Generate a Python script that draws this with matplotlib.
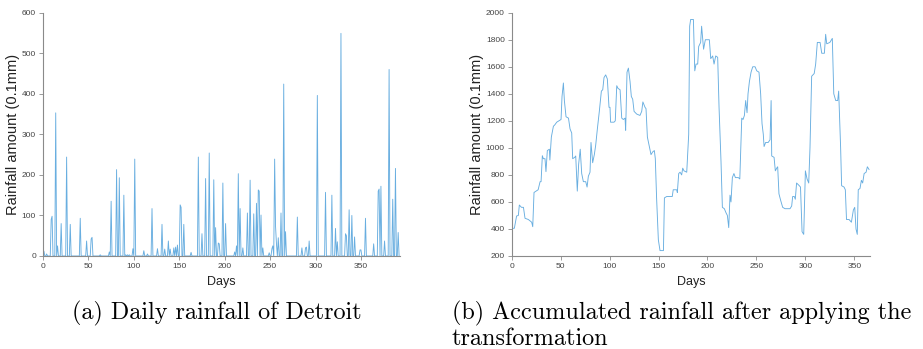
import numpy as np
import matplotlib
matplotlib.use("Agg")
import matplotlib.pyplot as plt

# ---- Data: (a) daily rainfall (0.1mm); days without listed values are dry (0)
n_days_a = 393
rain_days = [1, 4, 9, 10, 14, 16, 20, 26, 30, 41, 48, 53, 54, 63, 73, 75, 81, 84, 89,
             91, 93, 95, 99, 101, 111, 115, 120, 126, 131, 134, 138, 140, 144, 146, 148,
             151, 152, 155, 163, 171, 175, 179, 183, 188, 190, 193, 194, 198, 201,
             211, 213, 215, 217, 220, 225, 228, 232, 235, 237, 238, 240, 242, 249,
             252, 253, 255, 256, 257, 259, 262, 265, 267, 280, 285, 289, 290, 293,
             302, 311, 318, 322, 324, 328, 333, 334, 337, 340, 343, 349, 350, 355,
             364, 369, 370, 372, 376, 381, 385, 388, 391]
rain_vals = [12, 5, 90, 98, 353, 25, 80, 244, 78, 93, 37, 42, 46, 3, 10, 135, 213, 193, 150,
             3, 3, 3, 18, 239, 13, 5, 117, 18, 78, 17, 37, 17, 20, 22, 27,
             126, 120, 78, 9, 244, 55, 191, 254, 188, 70, 32, 30, 180, 80,
             10, 25, 203, 117, 20, 106, 187, 104, 130, 163, 160, 101, 20, 8,
             18, 25, 239, 73, 30, 45, 106, 424, 60, 96, 20, 20, 22, 37,
             396, 157, 150, 68, 35, 549, 55, 50, 114, 100, 47, 15, 15, 93,
             30, 160, 165, 172, 37, 460, 140, 216, 58]

# ---- Data: (b) accumulated rainfall after transformation (0.1mm)
acc_days = [0, 2.7, 5, 6.8, 7.8, 10, 12, 13.6, 17, 18.7, 20.4, 21.5, 22.8, 24.9, 27, 29, 30,
            31.3, 32.3, 34, 35, 36.4, 38.5, 39, 40.5, 42.6, 44, 46, 48.3, 50.4, 51.4, 52.8,
            53.8, 55.5, 58, 59.6, 61.3, 62.3, 64.4, 65.4, 67, 68.4, 70, 71.5, 73.2, 75.6, 77,
            78.3, 80, 81, 82.7, 84.4, 85.8, 87.5, 89.5, 91.6, 93, 94.3, 96, 97.7, 99.4, 100.4,
            101, 104.5, 105.8, 107.3, 108.6, 110.7, 112.4, 114, 115.8, 116.4, 117.8, 119.2,
            120.9, 122.2, 123.6, 125, 127.7, 131, 132.8, 134, 136.2, 137.2, 138.6, 140.6,
            142.3, 144, 145.7, 146.7, 148, 149.8, 151.5, 155, 156, 158.3, 164, 165, 168.5,
            169.2, 170.6, 172, 173.6, 174.7, 176, 178.8, 180.8, 181.8, 182.8, 185.6, 187,
            188.3, 190, 191, 193, 194, 196, 197.8, 201.9, 203.3, 205.3, 206.7, 208.4, 210.4,
            211.8, 213.8, 215.2, 217.2, 218.9, 220.3, 221.7, 223, 224, 225.4, 227, 228.5,
            231.5, 233, 235, 236.3, 237.7, 239, 240.4, 241.4, 242.8, 244.5, 246.2, 248.6,
            250.3, 252.6, 254.3, 255.7, 257, 257.8, 259.4, 262, 263.9, 265, 265.6, 268,
            269.3, 270.7, 271.7, 273, 274.8, 276.8, 279.2, 284.3, 286, 287, 288.7, 289.7,
            291, 293.8, 295, 296.6, 298.3, 300, 301.7, 303.4, 304.7, 306.4, 309, 310.5,
            312.2, 315, 316.7, 319.4, 320.7, 321.8, 325, 327.5, 329, 331, 333, 334, 335,
            336, 337, 339.5, 340.8, 342, 344.6, 347, 349, 350.4, 351.7, 353, 354, 355.8,
            357.2, 358.5, 360, 362, 363.3, 365]
acc_vals = [405, 405, 496, 500, 577, 560, 560, 479, 470, 460, 450, 417, 670, 680, 690, 750, 750,
            942, 920, 920, 824, 980, 990, 910, 1080, 1160, 1170, 1190, 1200, 1210, 1380, 1480,
            1350, 1230, 1220, 1140, 1110, 920, 930, 940, 680, 880, 990, 810, 750, 750, 710,
            790, 820, 1040, 890, 950, 1020, 1140, 1270, 1420, 1430, 1520, 1540, 1510, 1300, 1300,
            1190, 1190, 1200, 1460, 1440, 1430, 1220, 1210, 1220, 1130, 1560, 1590,
            1490, 1380, 1360, 1270, 1250, 1240, 1270, 1340, 1300, 1290, 1080, 1010,
            950, 970, 980, 920, 630, 320, 240, 240, 630, 640, 640, 690, 690,
            670, 810, 820, 800, 850, 830, 820, 1100, 1900, 1950, 1950, 1570,
            1620, 1620, 1750, 1780, 1900, 1730, 1800, 1800, 1660, 1680, 1620, 1680, 1670,
            1300, 900, 560, 550, 520, 500, 410, 650, 600, 780, 810, 780,
            780, 770, 1220, 1210, 1240, 1350, 1260, 1400, 1490, 1560, 1600, 1600,
            1570, 1560, 1400, 1180, 1100, 1010, 1040, 1040, 1060, 1350, 940, 930,
            830, 850, 860, 660, 610, 560, 550, 550, 570, 640, 640, 620,
            740, 720, 710, 380, 360, 830, 770, 740, 1000, 1530, 1550, 1620,
            1780, 1780, 1700, 1700, 1840, 1770, 1780, 1810, 1400, 1350, 1350, 1420, 1200,
            1000, 720, 710, 690, 470, 470, 450, 540, 560, 400, 360, 690, 700,
            760, 740, 810, 820, 860, 840]

xlabel = "Days"
ylabel = "Rainfall amount (0.1mm)"
caption_a = "(a) Daily rainfall of Detroit"
caption_b1 = "(b) Accumulated rainfall after applying the"
caption_b2 = "transformation"

daily = np.zeros(n_days_a)
daily[np.array(rain_days)] = rain_vals

plt.rcParams['font.family'] = ['Liberation Sans', 'DejaVu Sans']

W, H = 923, 349
fig = plt.figure(figsize=(W / 100, H / 100), dpi=100)

line_color = '#68aee0'
spine_color = '#8a8a8a'
tick_color = '#444444'


def style(ax):
    for s in ['top', 'right']:
        ax.spines[s].set_visible(False)
    for s in ['left', 'bottom']:
        ax.spines[s].set_color(spine_color)
        ax.spines[s].set_linewidth(0.8)
    ax.tick_params(direction='out', length=3, width=0.6, colors=spine_color,
                   labelsize=6, labelcolor=tick_color, pad=2)


def fx(px):
    return px / W


def fy(py):
    return 1 - py / H


ax1 = fig.add_axes([fx(43), fy(256), fx(400) - fx(43), fy(12.7) - fy(256)])
ax1.plot(np.arange(n_days_a), daily, color=line_color, lw=0.65)
ax1.set_xlim(0, 393)
ax1.set_ylim(0, 600)
ax1.set_xticks(np.arange(0, 351, 50))
ax1.set_yticks(np.arange(0, 601, 100))
style(ax1)
ax1.set_xlabel(xlabel, fontsize=9, color='#222222', labelpad=4)
ax1.set_ylabel(ylabel, fontsize=10.5, color='#222222', labelpad=1)

ax2 = fig.add_axes([fx(511.7), fy(256), fx(870) - fx(511.7), fy(12.7) - fy(256)])
ax2.plot(acc_days, acc_vals, color=line_color, lw=0.65)
ax2.set_xlim(0, 366)
ax2.set_ylim(200, 2000)
ax2.set_xticks(np.arange(0, 351, 50))
ax2.set_yticks(np.arange(200, 2001, 200))
style(ax2)
ax2.set_xlabel(xlabel, fontsize=9, color='#222222', labelpad=4)
ax2.set_ylabel(ylabel, fontsize=10.5, color='#222222', labelpad=1)

cap_font = dict(family='cmr10', fontsize=17.4, color='black')
fig.text(fx(72), fy(319), caption_a, ha='left', va='baseline', **cap_font)
fig.text(fx(452), fy(319), caption_b1, ha='left', va='baseline', **cap_font)
fig.text(fx(452), fy(345), caption_b2, ha='left', va='baseline', **cap_font)

fig.savefig('out.png', dpi=100)
